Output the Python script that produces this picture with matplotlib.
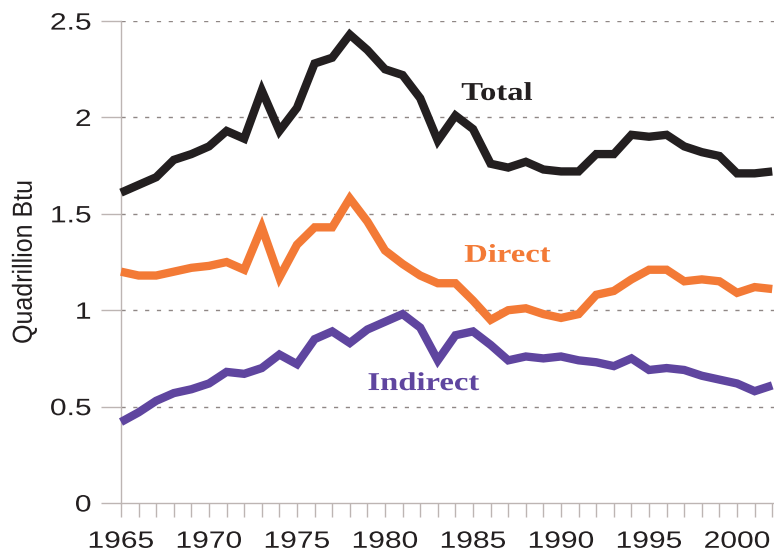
import matplotlib
matplotlib.use('Agg')
import matplotlib.pyplot as plt
import matplotlib.patheffects as pe
from matplotlib.transforms import Affine2D

# data (quadrillion Btu)
years = list(range(1965, 2003))
total = [1.61, 1.65, 1.69, 1.78, 1.81, 1.85, 1.93, 1.89, 2.14, 1.93,
         2.05, 2.28, 2.31, 2.43, 2.35, 2.25, 2.22, 2.10, 1.88, 2.01,
         1.94, 1.76, 1.74, 1.77, 1.73, 1.72, 1.72, 1.81, 1.81, 1.91,
         1.90, 1.91, 1.85, 1.82, 1.80, 1.71, 1.71, 1.72]
direct = [1.20, 1.18, 1.18, 1.20, 1.22, 1.23, 1.25, 1.21, 1.43, 1.17,
          1.34, 1.43, 1.43, 1.58, 1.46, 1.31, 1.24, 1.18, 1.14, 1.14,
          1.05, 0.95, 1.00, 1.01, 0.98, 0.96, 0.98, 1.08, 1.10, 1.16,
          1.21, 1.21, 1.15, 1.16, 1.15, 1.09, 1.12, 1.11]
indirect = [0.42, 0.47, 0.53, 0.57, 0.59, 0.62, 0.68, 0.67, 0.70, 0.77,
            0.72, 0.85, 0.89, 0.83, 0.90, 0.94, 0.98, 0.91, 0.74, 0.87,
            0.89, 0.82, 0.74, 0.76, 0.75, 0.76, 0.74, 0.73, 0.71, 0.75,
            0.69, 0.70, 0.69, 0.66, 0.64, 0.62, 0.58, 0.61]

series_names = ['Total', 'Direct', 'Indirect']
series_colors = ['#231f20', '#f37a36', '#5f459f']
yticks = [0, 0.5, 1, 1.5, 2, 2.5]
ytick_labels = ['0', '0.5', '1', '1.5', '2', '2.5']
xtick_labels = [str(y) if y % 5 == 0 else '' for y in years]


class Stretch(pe.AbstractPathEffect):
    # the source picture is squeezed wider than it is tall, text included
    def __init__(self, sx, anchor='center'):
        super().__init__()
        self.sx = sx
        self.anchor = anchor

    def draw_path(self, renderer, gc, tpath, affine, rgbFace=None):
        ext = tpath.get_extents(affine)
        x0 = ext.x1 if self.anchor == 'right' else (ext.x0 + ext.x1) / 2
        t = affine + Affine2D().translate(-x0, 0).scale(self.sx, 1).translate(x0, 0)
        renderer.draw_path(gc, tpath, t, rgbFace)


plt.rcParams['font.family'] = ['Liberation Sans', 'DejaVu Sans']

fig = plt.figure(figsize=(7.74, 5.52), dpi=100)
ax = fig.add_axes([0.1563, 0.0888, 0.8437, 0.873])

for vals, col in zip([total, direct, indirect], series_colors):
    ax.plot(years, vals, color=col, linewidth=6, solid_joinstyle='miter',
            solid_capstyle='butt', clip_on=False, zorder=3)

ax.set_xlim(1965, 2002.1)
ax.set_ylim(0, 2.5)

grid_col = '#bdb5b3'
for y in yticks[1:]:
    ax.axhline(y, color='#8f8785', linewidth=1, dashes=(3, 5.5), zorder=1)

for s in ['top', 'right']:
    ax.spines[s].set_visible(False)
for s in ['left', 'bottom']:
    ax.spines[s].set_color(grid_col)
    ax.spines[s].set_linewidth(1)

ax.set_xticks(years)
ax.set_xticklabels(xtick_labels)
ax.set_yticks(yticks)
ax.set_yticklabels(ytick_labels)
ax.tick_params(axis='x', length=10, width=1, color=grid_col, pad=10,
               labelsize=17, labelcolor='#231f20')
ax.tick_params(axis='y', length=14.4, width=1, color=grid_col, pad=7,
               labelsize=17, labelcolor='#231f20')

for lab in ax.get_xticklabels():
    lab.set_path_effects([Stretch(1.27)])
for lab in ax.get_yticklabels():
    lab.set_path_effects([Stretch(1.27, 'right')])

ax.set_ylabel('Quadrillion Btu', fontsize=18, color='#231f20',
              path_effects=[Stretch(1.1)])
ax.yaxis.set_label_coords(-0.13, 0.5)

label_pos = [(1986.36, 2.091), (1986.96, 1.251), (1982.19, 0.586)]
for name, col, (lx, ly) in zip(series_names, series_colors, label_pos):
    ax.text(lx, ly, name, color=col, fontsize=18.5, fontweight='bold',
            family='Liberation Serif', ha='center', va='baseline',
            path_effects=[Stretch(1.27)], zorder=4)

fig.savefig('out.png', dpi=100)
